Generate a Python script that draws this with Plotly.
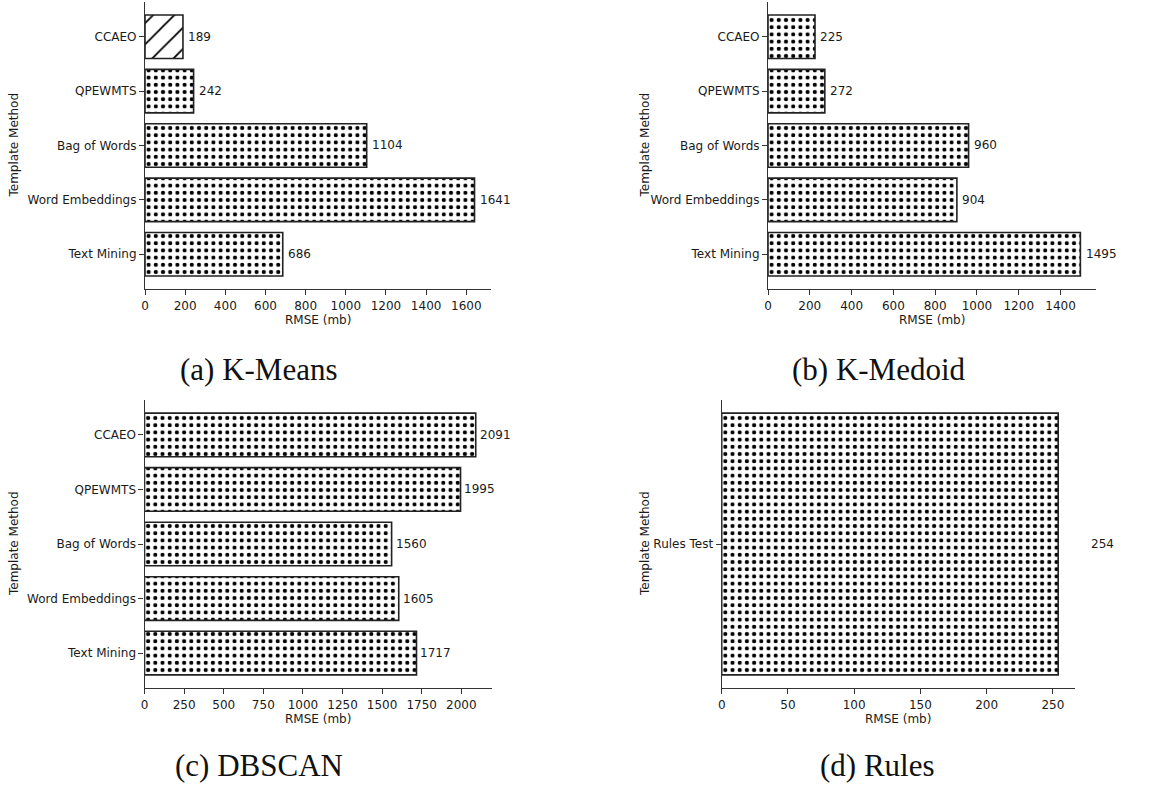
import plotly.graph_objects as go

# ---- data ----
methods = ["CCAEO", "QPEWMTS", "Bag of Words", "Word Embeddings", "Text Mining"]
kmeans_rmse = [189, 242, 1104, 1641, 686]
kmedoid_rmse = [225, 272, 960, 904, 1495]
dbscan_rmse = [2091, 1995, 1560, 1605, 1717]
rules_methods = ["Rules Test"]
rules_rmse = [254]

# hatch per bar (K-Means highlights CCAEO with diagonal lines)
kmeans_hatch = ["/", ".", ".", ".", "."]

captions = ["(a) K-Means", "(b) K-Medoid", "(c) DBSCAN", "(d) Rules"]
x_ticks = {
    "a": list(range(0, 1601, 200)),
    "b": list(range(0, 1401, 200)),
    "c": list(range(0, 2001, 250)),
    "d": list(range(0, 251, 50)),
}

W, H = 1153, 786
TXT = "#1a1a1a"
TICK_FONT = dict(family="DejaVu Sans", size=12, color=TXT)
CAPTION_FONT = dict(family="Liberation Serif", size=31, color="#111")
LABEL_OFFSET = 25  # data units between bar end and value label


def px_x(p):
    return p / W


def px_y(p):
    return 1 - p / H


# panel geometry in pixels: (left, right, top, bottom)
panels = {
    "a": dict(box=(145, 491, 2, 289), xa="x", ya="y", vals=kmeans_rmse, cats=methods, hatch=kmeans_hatch),
    "b": dict(box=(768, 1096, 2, 289), xa="x2", ya="y2", vals=kmedoid_rmse, cats=methods, hatch=None),
    "c": dict(box=(144.5, 492.3, 400, 688), xa="x3", ya="y3", vals=dbscan_rmse, cats=methods, hatch=None),
    "d": dict(box=(721.7, 1075, 400, 688), xa="x4", ya="y4", vals=rules_rmse, cats=rules_methods, hatch=None),
}

fig = go.Figure()
annotations = []

for key, p in panels.items():
    vals, cats = p["vals"], p["cats"]
    l, r, t, b = p["box"]
    xmax = max(vals) * 1.05
    px_per_unit = (r - l) / xmax

    hatch = p["hatch"] or ["."] * len(vals)
    sizes = [15 if h == "/" else 7.2 for h in hatch]
    solid = [0.12 if h == "/" else 0.26 for h in hatch]
    fig.add_trace(go.Bar(
        x=vals, y=cats, orientation="h",
        xaxis=p["xa"], yaxis=p["ya"],
        width=0.8,
        marker=dict(
            color="white",
            line=dict(color="#222", width=1.6),
            pattern=dict(shape=hatch, size=sizes, solidity=solid,
                         fgcolor="black", bgcolor="white", fillmode="replace"),
        ),
        showlegend=False, hoverinfo="x+y",
    ))
    # value labels sit a fixed data distance past the bar end
    for v, c in zip(vals, cats):
        annotations.append(dict(
            x=v, y=c, xref=p["xa"], yref=p["ya"],
            text=str(v), showarrow=False, xanchor="left", yanchor="middle",
            xshift=LABEL_OFFSET * px_per_unit - 2, font=TICK_FONT,
        ))

    n = len(cats)
    yr = [-0.44, 0.44] if n == 1 else [-0.64, n - 1 + 0.64]

    xname = "xaxis" if p["xa"] == "x" else "xaxis" + p["xa"][1:]
    yname = "yaxis" if p["ya"] == "y" else "yaxis" + p["ya"][1:]
    fig.layout[xname] = dict(
        domain=[px_x(l), px_x(r)], anchor=p["ya"], range=[0, xmax],
        tickvals=x_ticks[key], ticks="outside", ticklen=5, tickwidth=1.1,
        tickcolor="#333", showline=True, linecolor="#333", linewidth=1.2,
        showgrid=False, zeroline=False, tickfont=TICK_FONT, automargin=False,
    )
    fig.layout[yname] = dict(
        domain=[px_y(b), px_y(t)], anchor=p["xa"], range=yr,
        categoryorder="array", categoryarray=cats[::-1],
        ticks="outside", ticklen=5, tickwidth=1.1, tickcolor="#333",
        showline=True, linecolor="#333", linewidth=1.2,
        showgrid=False, zeroline=False, tickfont=TICK_FONT, automargin=False,
    )

    # axis titles
    annotations.append(dict(
        x=px_x((l + r) / 2), y=px_y(b + 31), xref="paper", yref="paper",
        text="RMSE (mb)", showarrow=False, xanchor="center", yanchor="middle",
        font=TICK_FONT,
    ))
    annotations.append(dict(
        x=px_x(14 if l < 500 else 645), y=px_y((t + b) / 2), xref="paper", yref="paper",
        text="Template Method", showarrow=False, textangle=-90,
        xanchor="center", yanchor="middle", font=TICK_FONT,
    ))

# sub-figure captions
for cap, (cx, cy) in zip(captions, [(259, 370), (879, 370), (259, 765), (877, 765)]):
    annotations.append(dict(
        x=px_x(cx), y=px_y(cy), xref="paper", yref="paper", text=cap,
        showarrow=False, xanchor="center", yanchor="middle", font=CAPTION_FONT,
    ))

fig.update_layout(
    width=W, height=H, autosize=False,
    margin=dict(l=0, r=0, t=0, b=0, autoexpand=False),
    paper_bgcolor="white", plot_bgcolor="white",
    bargap=0.2, annotations=annotations,
)

fig.write_html("out.html")
